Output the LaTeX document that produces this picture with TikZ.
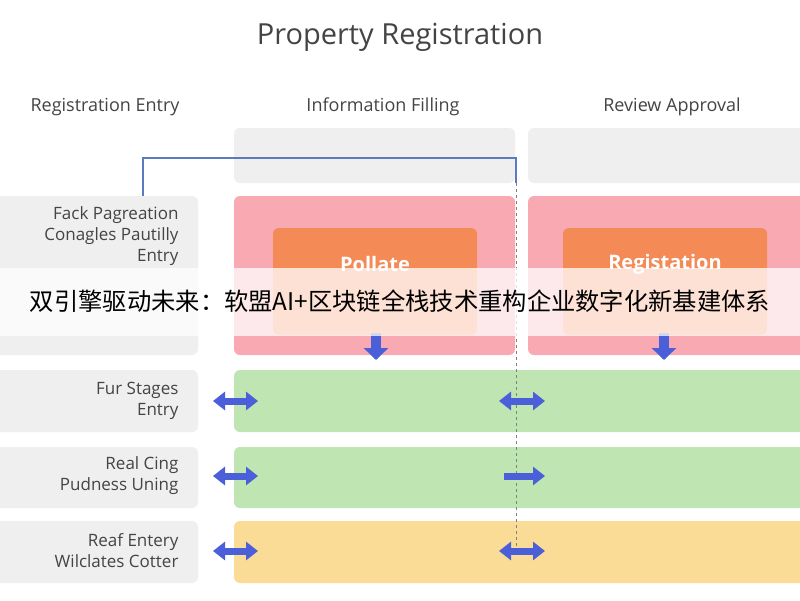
\documentclass[tikz,border=0pt]{standalone}
\usepackage{fontspec}
\setmainfont{Open Sans}
\newfontfamily\cjk{Noto Sans CJK SC}
\usetikzlibrary{arrows.meta}
\definecolor{lgrey}{HTML}{EFEFEF}
\definecolor{pinkc}{HTML}{F9A9B2}
\definecolor{orangec}{HTML}{F48A55}
\definecolor{greenc}{HTML}{BFE5B3}
\definecolor{yellowc}{HTML}{FBDC96}
\definecolor{bluec}{HTML}{4A5FD8}
\definecolor{linec}{HTML}{5A7BC0}
\definecolor{txt}{HTML}{444444}
\begin{document}
\begin{tikzpicture}[x=1pt,y=-1pt,
  box/.style={rounded corners=6pt,draw=none},
  lab/.style={align=right,anchor=east,font=\fontsize{17}{21}\selectfont,text=txt},
  hdr/.style={font=\fontsize{18}{20}\selectfont,text=txt},
  inner/.style={font=\bfseries\fontsize{20}{26}\selectfont,text=white,align=center},
  darr/.style={{Triangle[width=18pt,length=12pt]}-{Triangle[width=18pt,length=12pt]},line width=7pt,bluec},
  sarr/.style={-{Triangle[width=18pt,length=12pt]},line width=7pt,bluec}]
\useasboundingbox (0,0) rectangle (800,600);
\fill[white] (0,0) rectangle (800,600);
\node[font=\fontsize{29}{32}\selectfont,text=txt] (title) at (400,37) {Property Registration};
\node[hdr] (h1) at (105,107) {Registration Entry};
\node[hdr] (h2) at (383,107) {Information Filling};
\node[hdr] (h3) at (672,107) {Review Approval};
% left labels
\fill[lgrey,box] (-10,196) rectangle (198,355);
\fill[lgrey,box] (-10,370) rectangle (198,432);
\fill[lgrey,box] (-10,447) rectangle (198,508);
\fill[lgrey,box] (-10,521) rectangle (198,583);
\node[lab] (l1) at (182,236) {Fack Pagreation\\Conagles Pautilly\\Entry};
\node[lab] (l2) at (182,401) {Fur Stages\\Entry};
\node[lab] (l3) at (182,476) {Real Cing\\Pudness Uning};
\node[lab] (l4) at (182,551) {Reaf Entery\\Wilclates Cotter};
% columns
\fill[lgrey,box] (234,128) rectangle (515,183);
\fill[lgrey,box] (528,128) rectangle (810,183);
\fill[pinkc,box] (234,196) rectangle (515,355);
\fill[pinkc,box] (528,196) rectangle (810,355);
\fill[orangec,box] (273,228) rectangle (477,335);
\fill[orangec,box] (563,228) rectangle (767,335);
\node[inner] (o1) at (375,264) {Pollate};
\node[inner] (o2) at (665,264) {Registation};
\fill[greenc,box] (234,370) rectangle (810,432);
\fill[greenc,box] (234,447) rectangle (810,508);
\fill[yellowc,box] (234,521) rectangle (810,583);
% connector
\coordinate (c0) at (143,196);
\coordinate (c1) at (516,183);
\coordinate (c2) at (516,550);
\draw[linec,line width=1.2pt] (c0) -- (143,158) -- (516,158) -- (c1);
\draw[gray,line width=1pt,dashed] (c1) -- (c2);
% arrows
\coordinate (d1a) at (376,333); \coordinate (d1b) at (376,360);
\coordinate (d2a) at (664,333); \coordinate (d2b) at (664,360);
\draw[sarr,line width=10pt,-{Triangle[width=24pt,length=12pt]}] (d1a) -- (d1b);
\draw[sarr,line width=10pt,-{Triangle[width=24pt,length=12pt]}] (d2a) -- (d2b);
\foreach \y/\n in {401/a,476/b,551/c}{
  \coordinate (L\n1) at (213,\y); \coordinate (L\n2) at (258,\y);
  \draw[darr] (L\n1) -- (L\n2);}
\coordinate (Ra1) at (499,401); \coordinate (Ra2) at (545,401);
\coordinate (Rb1) at (504,476); \coordinate (Rb2) at (545,476);
\coordinate (Rc1) at (499,551); \coordinate (Rc2) at (545,551);
\draw[darr] (Ra1) -- (Ra2);
\draw[sarr] (Rb1) -- (Rb2);
\draw[darr] (Rc1) -- (Rc2);
% banner
\fill[white,opacity=0.75] (0,268) rectangle (800,336);
\node[font=\cjk\fontsize{24.3}{28}\selectfont,text=black] (banner) at (400,301) {双引擎驱动未来：软盟AI+区块链全栈技术重构企业数字化新基建体系};
\end{tikzpicture}
\end{document}
